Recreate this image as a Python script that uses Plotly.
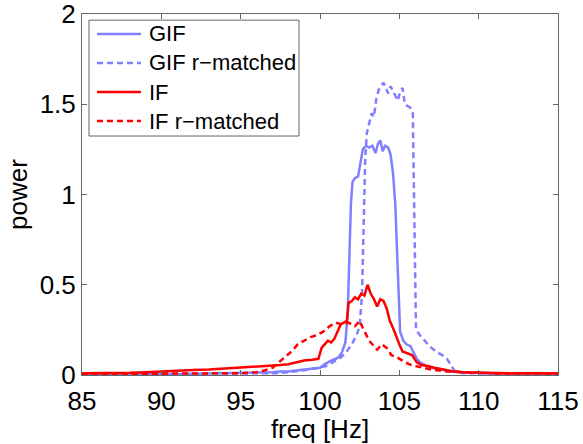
import plotly.graph_objects as go

# Power spectra read per frequency (Hz)
gif_freq = [85, 86, 87, 88, 89, 90, 91, 92, 93, 94, 95, 96, 97, 97.5, 98, 98.5, 99, 99.5,
            100, 100.3, 100.7, 101, 101.2, 101.4, 101.6, 101.75, 101.85, 101.95, 102.05,
            102.2, 102.4, 102.55, 102.7, 102.9, 103.1, 103.3, 103.5, 103.65, 103.8, 103.95,
            104.1, 104.3, 104.45, 104.6, 104.75, 104.85, 104.95, 105.05, 105.25, 105.45,
            105.7, 105.9, 106.1, 106.3, 106.7, 107.1, 107.6, 108.2, 109, 110, 111, 112,
            113, 114, 115]
gif_power = [0.0, 0.005, 0.003, 0.005, 0.004, 0.006, 0.005, 0.008, 0.007, 0.01, 0.012, 0.012,
             0.015, 0.02, 0.02, 0.025, 0.03, 0.035, 0.04, 0.06, 0.08, 0.09, 0.10, 0.13, 0.18,
             0.35, 0.7, 0.95, 1.07, 1.09, 1.10, 1.18, 1.25, 1.27, 1.26, 1.27, 1.23, 1.28, 1.30,
             1.24, 1.27, 1.26, 1.22, 1.12, 0.94, 0.70, 0.45, 0.24, 0.19, 0.17, 0.16, 0.12,
             0.09, 0.07, 0.05, 0.04, 0.03, 0.02, 0.015, 0.01, 0.008, 0.006, 0.005, 0.004, 0.004]

gifr_freq = [85, 87, 89, 91, 93, 95, 96, 97, 98, 98.6, 99.3, 99.9, 100.4, 100.8, 101.2, 101.6,
             102.0, 102.3, 102.5, 102.65, 102.75, 102.85, 102.95, 103.1, 103.25, 103.4,
             103.55, 103.7, 103.85, 104.0, 104.15, 104.3, 104.45, 104.6, 104.75, 104.9,
             105.05, 105.2, 105.35, 105.5, 105.7, 105.85, 105.92, 105.97, 106.05, 106.3,
             106.6, 106.9, 107.3, 107.7, 108.0, 108.3, 108.5, 109, 110, 111, 112, 113, 114, 115]
gifr_power = [0.002, 0.003, 0.003, 0.004, 0.004, 0.005, 0.008, 0.01, 0.015, 0.02, 0.03, 0.04,
              0.05, 0.07, 0.09, 0.12, 0.17, 0.22, 0.27, 0.45, 0.9, 1.2, 1.34, 1.40, 1.45, 1.43,
              1.53, 1.58, 1.60, 1.62, 1.59, 1.56, 1.60, 1.57, 1.55, 1.52, 1.57, 1.59, 1.50,
              1.49, 1.48, 1.45, 1.0, 0.5, 0.25, 0.22, 0.19, 0.16, 0.13, 0.11, 0.09, 0.05, 0.02,
              0.01, 0.008, 0.007, 0.006, 0.006, 0.005, 0.005]

if_freq = [85, 86, 87, 88, 89, 90, 91, 92, 93, 94, 95, 96, 97, 97.5, 98, 98.5, 99, 99.5, 99.9,
           100.1, 100.3, 100.5, 100.7, 100.9, 101.1, 101.3, 101.5, 101.7, 101.8, 102.0, 102.2,
           102.4, 102.6, 102.8, 103.0, 103.2, 103.4, 103.6, 103.8, 104.0, 104.2, 104.4, 104.6,
           104.8, 105.0, 105.2, 105.5, 105.8, 106.1, 106.4, 106.8, 107.2, 107.8, 108.4, 109,
           110, 111, 112, 113, 114, 115]
if_power = [0.01, 0.01, 0.012, 0.012, 0.015, 0.02, 0.025, 0.028, 0.03, 0.035, 0.04, 0.045,
            0.05, 0.055, 0.06, 0.07, 0.08, 0.085, 0.09, 0.15, 0.17, 0.19, 0.18, 0.20, 0.24,
            0.28, 0.29, 0.30, 0.40, 0.41, 0.43, 0.42, 0.45, 0.44, 0.50, 0.45, 0.42, 0.38, 0.42,
            0.41, 0.37, 0.30, 0.26, 0.21, 0.17, 0.13, 0.12, 0.11, 0.07, 0.055, 0.05, 0.04,
            0.03, 0.02, 0.015, 0.012, 0.012, 0.01, 0.01, 0.01, 0.01]

ifr_freq = [85, 87, 89, 91, 93, 95, 96, 96.5, 97, 97.4, 97.8, 98.2, 98.6, 99.0, 99.4, 99.8,
            100.2, 100.6, 101.0, 101.4, 101.8, 102.2, 102.5, 102.7, 102.9, 103.1, 103.4,
            103.6, 103.9, 104.2, 104.5, 104.8, 105.2, 105.6, 106.0, 106.5, 107, 108, 109,
            110, 111, 112, 113, 114, 115]
ifr_power = [0.005, 0.006, 0.007, 0.008, 0.009, 0.01, 0.015, 0.025, 0.04, 0.07, 0.10, 0.13,
             0.17, 0.19, 0.21, 0.22, 0.24, 0.27, 0.29, 0.28, 0.29, 0.27, 0.30, 0.26, 0.22,
             0.19, 0.16, 0.14, 0.17, 0.15, 0.11, 0.10, 0.08, 0.06, 0.05, 0.04, 0.03, 0.02,
             0.015, 0.01, 0.009, 0.009, 0.008, 0.008, 0.008]

series_names = ["GIF", "GIF r\u2212matched", "IF", "IF r\u2212matched"]

x_ticks = [85, 90, 95, 100, 105, 110, 115]
y_ticks = [0, 0.5, 1, 1.5, 2]
y_tick_text = ["0", "0.5", "1", "1.5", "2"]

BLUE = "#7f7fff"
RED = "#ff0000"
DASH = "6px,4px"
LINE_W = 2.5

series = [
    (gif_freq, gif_power, BLUE, "solid"),
    (gifr_freq, gifr_power, BLUE, DASH),
    (if_freq, if_power, RED, "solid"),
    (ifr_freq, ifr_power, RED, DASH),
]

fig = go.Figure()
for name, (fx, py, color, dash) in zip(series_names, series):
    fig.add_trace(go.Scatter(x=fx, y=py, mode="lines", name=name, showlegend=False,
                             line=dict(color=color, width=LINE_W, dash=dash)))

# Boxed legend in the upper-left corner of the axes (paper coordinates)
box_x0, box_x1, box_y0, box_y1 = 0.0147, 0.4559, 0.662, 0.983
row_y = [0.9446, 0.8643, 0.7839, 0.7036]
sample_x0, sample_x1, text_x = 0.0315, 0.1239, 0.1366

shapes = [dict(type="rect", xref="paper", yref="paper", x0=box_x0, x1=box_x1,
               y0=box_y0, y1=box_y1, line=dict(color="#666666", width=1),
               fillcolor="white", layer="above")]
annotations = []
for name, (_, _, color, dash), ry in zip(series_names, series, row_y):
    shapes.append(dict(type="line", xref="paper", yref="paper", x0=sample_x0, x1=sample_x1,
                       y0=ry, y1=ry, line=dict(color=color, width=LINE_W, dash=dash),
                       layer="above"))
    annotations.append(dict(xref="paper", yref="paper", x=text_x, y=ry, text=name,
                            showarrow=False, xanchor="left", yanchor="middle",
                            font=dict(size=22, color="black")))

axis_common = dict(showline=True, linecolor="#666666", linewidth=1, mirror="ticks",
                   ticks="inside", ticklen=5, tickcolor="#666666", showgrid=False,
                   zeroline=False, ticklabeloverflow="allow", automargin=False,
                   tickfont=dict(size=26, color="black"))

fig.update_layout(
    template="none",
    width=583, height=444,
    margin=dict(l=82, r=25, t=14, b=69),
    paper_bgcolor="white", plot_bgcolor="white",
    font=dict(family="Liberation Sans, Arial, sans-serif", color="black"),
    xaxis=dict(range=[85, 115], tickvals=x_ticks, ticklabelstandoff=3,
               title=dict(text="freq [Hz]", font=dict(size=26), standoff=3), **axis_common),
    yaxis=dict(range=[0, 2], tickvals=y_ticks, ticktext=y_tick_text,
               title=dict(text="power", font=dict(size=26), standoff=4), **axis_common),
    shapes=shapes,
    annotations=annotations,
)

fig.write_html("out.html")
